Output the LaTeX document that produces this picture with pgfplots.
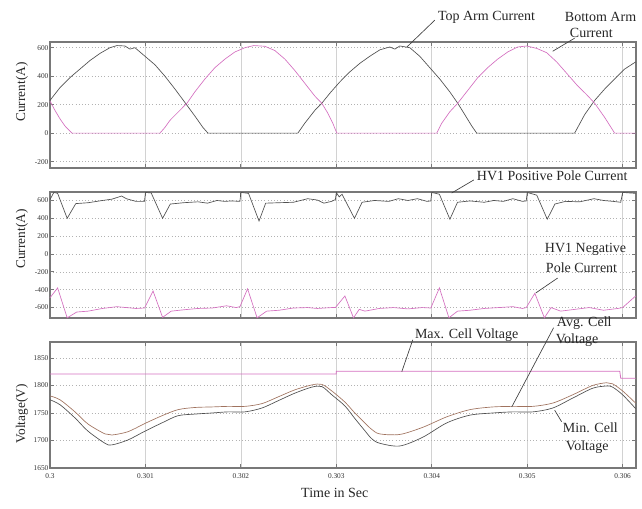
\documentclass[border=0pt]{standalone}
\usepackage{fontspec}
\setmainfont{Liberation Serif}
\usepackage{pgfplots}
\pgfplotsset{compat=1.18}
\definecolor{pinkc}{RGB}{212,112,192}
\definecolor{blk}{RGB}{80,80,80}
\definecolor{avgc}{RGB}{160,115,95}
\definecolor{framec}{RGB}{120,120,120}
\pgfplotsset{
  panel/.style={
    width=439.5pt, height=94.5pt, scale only axis,
    xmin=0.3, xmax=0.30614,
    xtick={0.3,0.301,0.302,0.303,0.304,0.305,0.306},
    grid=major,
    x grid style={gray!35, line width=0.4pt},
    y grid style={gray!60, dotted, line width=0.4pt},
    axis line style={framec, line width=1pt},
    tick style={framec, line width=0.6pt},
    major tick length=3pt,
    tick align=inside,
    ticklabel style={font=\fontsize{5.5}{6}\selectfont, text=black!80},
    yticklabel style={inner sep=1pt},
    /pgf/number format/assume math mode=true,
    /pgf/number format/1000 sep={},
    scaled x ticks=false, scaled y ticks=false,
    clip=false,
  },
}
\tikzset{
  lab/.style={font=\fontsize{10.5}{12}\selectfont, text=black!85, inner sep=0pt},
  ylab/.style={font=\fontsize{10}{12}\selectfont, text=black!85, rotate=90},
}
\begin{document}
\begin{tikzpicture}
% ---------------- Panel 1: arm currents
\begin{axis}[panel, at={(0,0)}, anchor=north west,
  ymin=-245, ymax=640, ytick={-200,0,200,400,600}, xticklabels={}]
\addplot[blk, line width=0.5pt] coordinates {
(0.300000,230) (0.300105,320) (0.300209,390) (0.300314,450) (0.300419,510) (0.300524,560) (0.300628,600) (0.300702,615) (0.300785,612) (0.300838,590) (0.300890,600) (0.300995,540) (0.301100,480) (0.301204,400) (0.301309,310) (0.301414,215) (0.301518,120) (0.301602,40) (0.301655,0) (0.302597,0) (0.302670,70) (0.302775,160) (0.302848,210) (0.302932,280) (0.303037,360) (0.303141,430) (0.303246,490) (0.303351,540) (0.303456,585) (0.303560,605) (0.303613,590) (0.303665,612) (0.303770,600) (0.303874,540) (0.303979,460) (0.304084,380) (0.304189,290) (0.304272,210) (0.304346,130) (0.304419,50) (0.304471,0) (0.305497,0) (0.305602,130) (0.305707,230) (0.305812,310) (0.305916,380) (0.306021,450) (0.306136,500)};
\addplot[pinkc, line width=0.5pt] coordinates {
(0.300000,225) (0.300052,160) (0.300105,100) (0.300157,50) (0.300230,0) (0.301152,0) (0.301204,40) (0.301257,90) (0.301361,160) (0.301435,210) (0.301518,290) (0.301623,380) (0.301728,460) (0.301833,520) (0.301937,570) (0.302042,600) (0.302136,615) (0.302251,610) (0.302356,580) (0.302461,520) (0.302565,440) (0.302670,350) (0.302775,260) (0.302848,210) (0.302911,140) (0.302963,70) (0.303005,0) (0.304052,0) (0.304105,70) (0.304189,150) (0.304272,210) (0.304377,300) (0.304482,390) (0.304586,460) (0.304691,520) (0.304796,570) (0.304901,605) (0.304995,612) (0.305100,595) (0.305204,565) (0.305309,500) (0.305414,420) (0.305518,340) (0.305623,270) (0.305707,210) (0.305812,110) (0.305916,0) (0.306136,0)};
\node[ylab] at ([xshift=-21pt]rel axis cs:0,0.603) {Current(A)};
\draw[black!75, line width=0.5pt] (axis cs:0.304031,793) -- (axis cs:0.303738,604);
\node[lab, anchor=west] at (axis cs:0.304063,814) {Top Arm Current};
\draw[black!75, line width=0.5pt] (axis cs:0.305497,667) -- (axis cs:0.305267,575);
\node[lab, anchor=west] at (axis cs:0.305393,814) {Bottom Arm};
\node[lab, anchor=west] at (axis cs:0.305445,702) {Current};
\end{axis}
% ---------------- Panel 2: pole currents
\begin{axis}[panel, at={(0,-112.5pt)}, anchor=north west,
  ymin=-717, ymax=695, ytick={-600,-400,-200,0,200,400,600}, xticklabels={}]
\addplot[blk, line width=0.5pt] coordinates {
(0.300000,610) (0.300040,690) (0.300080,680) (0.300180,400) (0.300270,565) (0.300400,575) (0.300550,600) (0.300650,615) (0.300750,650) (0.300800,620) (0.300900,590) (0.300990,590)
(0.301000,690) (0.301060,685) (0.301180,400) (0.301260,560) (0.301400,575) (0.301550,585) (0.301650,570) (0.301750,600) (0.301830,590) (0.301900,595) (0.301990,590)
(0.302000,690) (0.302080,680) (0.302190,370) (0.302260,570) (0.302400,575) (0.302550,580) (0.302700,620) (0.302800,605) (0.302870,570) (0.302950,590) (0.302990,610)
(0.303000,690) (0.303030,640) (0.303060,670) (0.303190,400) (0.303270,580) (0.303400,600) (0.303550,590) (0.303650,620) (0.303750,600) (0.303850,620) (0.303950,590) (0.303990,595)
(0.304000,690) (0.304080,670) (0.304190,390) (0.304270,580) (0.304400,595) (0.304550,580) (0.304650,600) (0.304750,590) (0.304850,620) (0.304950,590) (0.304990,595)
(0.305000,690) (0.305100,660) (0.305210,390) (0.305290,560) (0.305400,590) (0.305550,585) (0.305700,620) (0.305800,600) (0.305900,590) (0.305980,580) (0.306000,690) (0.306136,680)};
\addplot[pinkc, line width=0.5pt] coordinates {
(0.300000,-490) (0.300080,-380) (0.300180,-715) (0.300280,-650) (0.300400,-640) (0.300550,-610) (0.300700,-590) (0.300800,-600) (0.300900,-610) (0.300990,-605)
(0.301080,-415) (0.301180,-710) (0.301270,-640) (0.301400,-625) (0.301550,-610) (0.301700,-605) (0.301850,-580) (0.301950,-600) (0.301990,-590)
(0.302070,-390) (0.302170,-715) (0.302270,-640) (0.302400,-630) (0.302550,-605) (0.302700,-600) (0.302800,-610) (0.302950,-600) (0.302990,-600)
(0.303090,-470) (0.303180,-715) (0.303240,-620) (0.303300,-640) (0.303450,-610) (0.303600,-600) (0.303750,-615) (0.303900,-600) (0.303990,-605)
(0.304080,-380) (0.304180,-715) (0.304270,-640) (0.304400,-630) (0.304550,-610) (0.304700,-600) (0.304850,-590) (0.304950,-610) (0.304990,-600)
(0.305080,-440) (0.305180,-715) (0.305250,-600) (0.305350,-640) (0.305500,-620) (0.305650,-600) (0.305800,-630) (0.305950,-610) (0.306000,-600) (0.306136,-470)};
\node[ylab] at ([xshift=-21pt]rel axis cs:0,0.627) {Current(A)};
\draw[black!75, line width=0.5pt] (axis cs:0.304440,830) -- (axis cs:0.304209,684);
\node[lab, anchor=west] at (axis cs:0.304471,874) {HV1 Positive Pole Current};
\draw[black!75, line width=0.5pt] (axis cs:0.305319,-269) -- (axis cs:0.305089,-437);
\node[lab, anchor=west] at (axis cs:0.305183,56) {HV1 Negative};
\node[lab, anchor=west] at (axis cs:0.305194,-157) {Pole Current};
\end{axis}
% ---------------- Panel 3: cell voltages
\begin{axis}[panel, at={(0,-225pt)}, anchor=north west,
  ymin=1650, ymax=1879, ytick={1650,1700,1750,1800,1850},
  xticklabel style={/pgf/number format/fixed, /pgf/number format/precision=3, yshift=-1pt}]
\addplot[pinkc, line width=0.6pt] coordinates {
(0.300000,1821) (0.303000,1821) (0.303000,1826) (0.305970,1826) (0.305980,1813) (0.306136,1813)};
\addplot[avgc, line width=0.5pt, smooth] coordinates {
(0.300000,1781) (0.300105,1774) (0.300262,1752) (0.300398,1730) (0.300576,1712) (0.300649,1710) (0.300817,1716) (0.300995,1731) (0.301173,1745) (0.301340,1756) (0.301518,1760) (0.301696,1761) (0.301864,1762) (0.302042,1762) (0.302220,1767) (0.302387,1779) (0.302565,1792) (0.302743,1801) (0.302848,1802) (0.302953,1790) (0.303089,1770) (0.303194,1750) (0.303298,1732) (0.303372,1720) (0.303455,1712) (0.303665,1711) (0.303906,1724) (0.304157,1743) (0.304398,1756) (0.304639,1761) (0.304848,1762) (0.305058,1762) (0.305267,1768) (0.305476,1783) (0.305686,1800) (0.305832,1805) (0.305895,1803) (0.306000,1790) (0.306136,1768)};
\addplot[blk, line width=0.5pt, smooth] coordinates {
(0.300000,1774) (0.300105,1765) (0.300262,1741) (0.300398,1717) (0.300576,1695) (0.300649,1692) (0.300817,1701) (0.300995,1717) (0.301173,1732) (0.301340,1745) (0.301518,1748) (0.301696,1750) (0.301864,1752) (0.302042,1752) (0.302220,1759) (0.302387,1772) (0.302565,1786) (0.302743,1797) (0.302848,1798) (0.302953,1783) (0.303089,1763) (0.303194,1740) (0.303298,1718) (0.303372,1703) (0.303455,1695) (0.303665,1690) (0.303906,1706) (0.304157,1732) (0.304398,1746) (0.304639,1750) (0.304848,1752) (0.305058,1752) (0.305267,1759) (0.305476,1777) (0.305686,1795) (0.305832,1799) (0.305895,1797) (0.306000,1783) (0.306136,1758)};
\node[ylab] at ([xshift=-21pt]rel axis cs:0,0.43) {Voltage(V)};
\draw[black!75, line width=0.5pt] (axis cs:0.303801,1883) -- (axis cs:0.303686,1825);
\node[lab, anchor=west] at (axis cs:0.303822,1892) {Max. Cell Voltage};
\draw[black!75, line width=0.5pt] (axis cs:0.305277,1905) -- (axis cs:0.304838,1761);
\node[lab, anchor=west] at (axis cs:0.305309,1914) {Avg. Cell};
\node[lab, anchor=west] at (axis cs:0.305298,1883) {Voltage};
\draw[black!75, line width=0.5pt] (axis cs:0.305361,1734) -- (axis cs:0.305288,1755);
\node[lab, anchor=west] at (axis cs:0.305372,1723) {Min. Cell};
\node[lab, anchor=west] at (axis cs:0.305403,1688) {Voltage};
\node[lab, anchor=center] at ([yshift=-18.75pt]axis cs:0.302984,1650) {Time in Sec};
\end{axis}
\pgfresetboundingbox
\path[use as bounding box] (-37.5pt,31.5pt) rectangle (444pt,-349.5pt);
\end{tikzpicture}
\end{document}
